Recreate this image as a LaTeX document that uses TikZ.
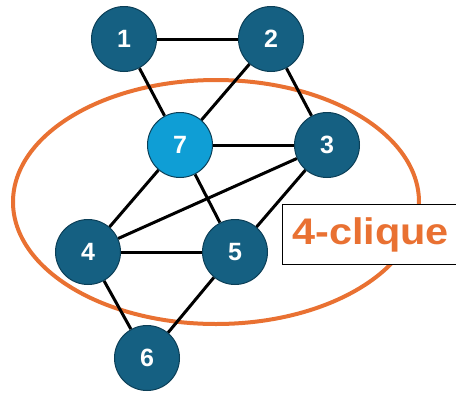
\documentclass[tikz,border=0pt]{standalone}
\usepackage{fontspec}
\setmainfont{Liberation Sans}
\usetikzlibrary{backgrounds}
\definecolor{nodeblue}{HTML}{156082}
\definecolor{nodeedge}{HTML}{0C3F57}
\definecolor{lightblue}{HTML}{0F9ED5}
\definecolor{cliqueorange}{HTML}{E97132}
\begin{document}
\begin{tikzpicture}[x=1pt,y=-1pt,
  vertex/.style={circle, minimum size=65pt, inner sep=0pt, fill=nodeblue,
    draw=nodeedge, line width=1pt, text=white,
    font=\fontsize{25}{25}\selectfont\bfseries},
  hot/.style={vertex, fill=lightblue},
  link/.style={line width=3pt, black},
  group/.style={draw=cliqueorange, line width=4pt},
  tag/.style={draw=black, line width=1.2pt, fill=white, anchor=north west,
    minimum width=200pt, minimum height=60pt, inner sep=0pt}]
  \useasboundingbox (0,0) rectangle (456,392);

  % vertices
  \node[vertex] (n1) at (124,39) {1};
  \node[vertex] (n2) at (271,39) {2};
  \node[hot]    (n7) at (180,145) {7};
  \node[vertex] (n3) at (327,145) {3};
  \node[vertex] (n4) at (88,252) {4};
  \node[vertex] (n5) at (235,252) {5};
  \node[vertex] (n6) at (147,358) {6};

  % highlighted region and edges, behind the vertices
  \begin{scope}[on background layer]
    \draw[group] (216,202) ellipse [x radius=203, y radius=122];
    \foreach \a/\b in {n1/n2, n1/n7, n2/n7, n2/n3, n7/n3, n7/n4, n7/n5,
                       n3/n4, n3/n5, n4/n5, n4/n6, n5/n6}
      \draw[link] (\a) -- (\b);
  \end{scope}

  % label box
  \node[tag] (box) at (282,204) {};
  \node[anchor=west, text=cliqueorange, inner sep=0pt,
        font=\fontsize{37}{37}\selectfont\bfseries, xscale=1.12]
        (lbl) at (292,234.5) {4-clique};
\end{tikzpicture}
\end{document}
